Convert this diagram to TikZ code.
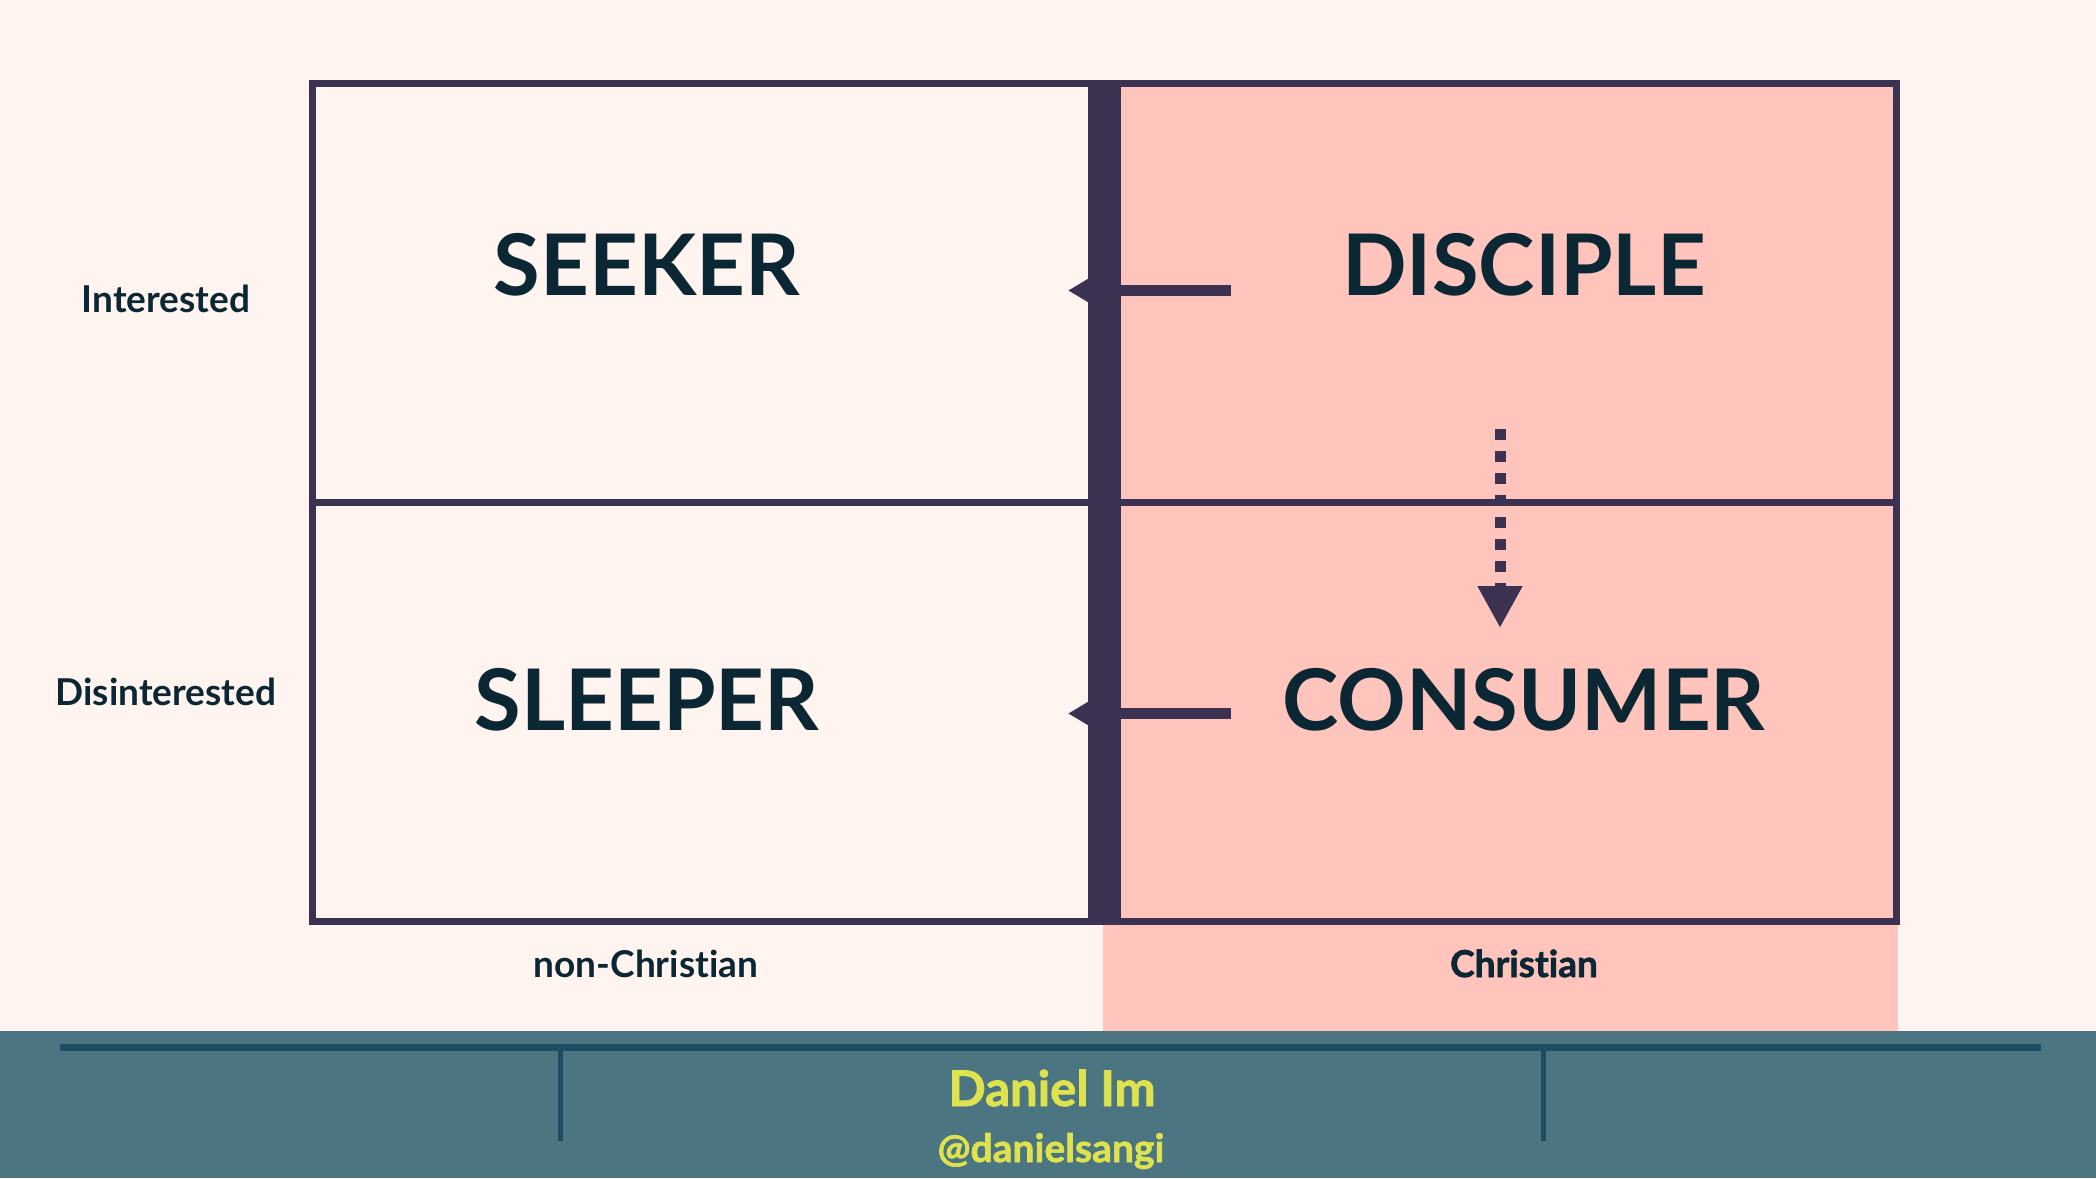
\documentclass[tikz,border=0pt]{standalone}
\usepackage{fontspec}
\setmainfont[Ligatures=NoCommon]{Lato}
\newfontfamily\heavyfont[Ligatures=NoCommon, BoldFeatures={FakeBold=1.6}]{Lato}
\usetikzlibrary{arrows.meta}
\definecolor{bg}{HTML}{FFF4F0}
\definecolor{pinkc}{HTML}{FFC4BC}
\definecolor{gridc}{HTML}{3B3150}
\definecolor{ink}{HTML}{0B2733}
\definecolor{band}{HTML}{4C7582}
\definecolor{bandline}{HTML}{1E4D61}
\definecolor{yel}{HTML}{DDE24E}
\begin{document}
\begin{tikzpicture}[x=0.5pt,y=-0.5pt,
  biglabel/.style={font=\fontsize{42.5}{50}\selectfont\bfseries, text=ink, anchor=base, inner sep=0pt},
  axislabel/.style={font=\fontsize{18.5}{22}\selectfont\bfseries, text=ink, anchor=base, inner sep=0pt},
  gridline/.style={draw=gridc, line width=3.5pt},
  flowarrow/.style={draw=gridc, line width=5.5pt, -{Triangle[length=15pt,width=16.5pt]}},
  downarrow/.style={draw=gridc, line width=5.5pt, dash pattern=on 5.5pt off 5.5pt, -{Triangle[length=21pt,width=21pt]}},
  bandrule/.style={draw=bandline, line width=3.5pt},
  bandtick/.style={draw=bandline, line width=2.5pt},
  credit/.style={text=yel, anchor=base, inner sep=0pt}]
\useasboundingbox (0,0) rectangle (2096,1178);
% backgrounds
\fill[bg] (0,0) rectangle (2096,1178);
\fill[pinkc] (1103,84) rectangle (1898,1031);
\fill[band] (0,1031) rectangle (2096,1178);
% bottom band rules
\coordinate (bl) at (60,1047.5);
\coordinate (br) at (2041,1047.5);
\coordinate (t1a) at (560,1046);
\coordinate (t1b) at (560,1141);
\coordinate (t2a) at (1543,1046);
\coordinate (t2b) at (1543,1141);
\draw[bandrule] (bl) -- (br);
\draw[bandtick] (t1a) -- (t1b);
\draw[bandtick] (t2a) -- (t2b);
% arrows from Christian side to non-Christian side
\coordinate (a1s) at (1231,290.5);
\coordinate (a1e) at (1068,290.5);
\coordinate (a2s) at (1231,713.5);
\coordinate (a2e) at (1068,713.5);
\draw[flowarrow] (a1s) -- (a1e);
\draw[flowarrow] (a2s) -- (a2e);
% grid
\coordinate (gl) at (312.5,83.5);
\coordinate (gr) at (1896.5,921.5);
\coordinate (ml) at (312.5,502.5);
\coordinate (mr) at (1896.5,502.5);
\draw[gridline] (gl) rectangle (gr);
\draw[gridline] (ml) -- (mr);
\fill[gridc] (1088,83.5) rectangle (1121,921.5);
% dashed arrow DISCIPLE -> CONSUMER
\coordinate (ds) at (1500,429);
\coordinate (de) at (1500,628);
\draw[downarrow] (ds) -- (de);
% labels
\node[biglabel] (seeker) at (647,295.5) {SEEKER};
\node[biglabel] (disciple) at (1524,295.5) {DISCIPLE};
\node[biglabel] (sleeper) at (647,730) {SLEEPER};
\node[biglabel] (consumer) at (1524,730) {CONSUMER};
\node[axislabel] (interested) at (166,312) {Interested};
\node[axislabel] (disinterested) at (166,705) {Disinterested};
\node[axislabel] (nonchristian) at (646,977) {non-Christian};
\node[axislabel, font=\fontsize{18.5}{22}\selectfont\heavyfont\bfseries] (christian) at (1524,977) {Christian};
\node[credit, font=\fontsize{24.5}{28}\selectfont\heavyfont\bfseries] (name) at (1052,1106) {Daniel Im};
\node[credit, font=\fontsize{19.5}{22}\selectfont\heavyfont\bfseries] (handle) at (1051,1162) {@danielsangi};
\end{tikzpicture}
\end{document}
